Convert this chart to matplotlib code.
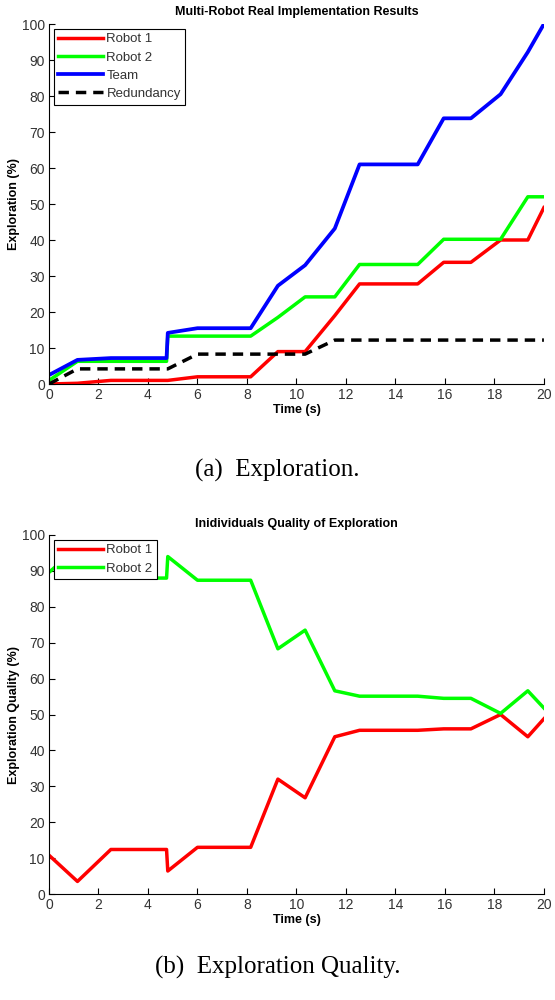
import matplotlib
matplotlib.use("Agg")
import matplotlib.pyplot as plt

# sample times (s)
time = [0, 1.15, 2.5, 4.75, 4.8, 6.0, 8.15, 9.25, 10.35, 11.55, 12.55, 14.9, 15.95, 17.05, 18.25, 19.35, 20.0]

# exploration (%)
robot1 = [0, 0.2, 1.0, 1.0, 1.0, 2.0, 2.0, 9.0, 9.0, 19.0, 27.8, 27.8, 33.8, 33.8, 40.0, 40.0, 49.0]
robot2 = [1.0, 6.3, 6.3, 6.3, 13.3, 13.3, 13.3, 18.5, 24.2, 24.2, 33.2, 33.2, 40.2, 40.2, 40.2, 52.0, 52.0]
team = [2.5, 6.7, 7.2, 7.2, 14.2, 15.5, 15.5, 27.3, 33.0, 43.2, 61.0, 61.0, 73.8, 73.8, 80.5, 92.2, 100.0]
redundancy = [0, 4.2, 4.2, 4.2, 4.2, 8.3, 8.3, 8.3, 8.3, 12.2, 12.2, 12.2, 12.2, 12.2, 12.2, 12.2, 12.2]

# quality of exploration (%)
quality1 = [10.8, 3.5, 12.4, 12.4, 6.4, 13.0, 13.0, 32.0, 26.8, 43.8, 45.6, 45.6, 46.0, 46.0, 50.0, 43.8, 48.8]
quality2 = [89.6, 96.5, 88.0, 88.0, 94.0, 87.4, 87.4, 68.3, 73.5, 56.6, 55.1, 55.1, 54.5, 54.5, 50.3, 56.6, 51.8]

plt.rcParams['font.family'] = ['Liberation Sans', 'DejaVu Sans']

fig = plt.figure(figsize=(5.55, 10), dpi=100)
ax1 = fig.add_axes([0.0883, 0.616, 0.8917, 0.360])
ax2 = fig.add_axes([0.0883, 0.106, 0.8917, 0.359])

ax1.plot(time, robot1, color='#ff0000', lw=2.5, label='Robot 1')
ax1.plot(time, robot2, color='#00ff00', lw=2.5, label='Robot 2')
ax1.plot(time, team, color='#0000ff', lw=2.7, label='Team')
ax1.plot(time, redundancy, color='black', lw=2.5, ls=(0, (3, 2)), label='Redundancy')
ax1.set_title('Multi-Robot Real Implementation Results', fontsize=9, fontweight='bold', pad=6.5)
ax1.set_ylabel('Exploration (%)', fontsize=9, fontweight='bold')

ax2.plot(time, quality1, color='#ff0000', lw=2.5, label='Robot 1')
ax2.plot(time, quality2, color='#00ff00', lw=2.5, label='Robot 2')
ax2.set_title('Inidividuals Quality of Exploration', fontsize=9, fontweight='bold', pad=6)
ax2.set_ylabel('Exploration Quality (%)', fontsize=9, fontweight='bold')

for ax in (ax1, ax2):
    ax.set_xlim(0, 20)
    ax.set_ylim(0, 100)
    ax.set_xticks(range(0, 21, 2))
    ax.set_yticks(range(0, 101, 10))
    ax.set_xlabel('Time (s)', fontsize=9, fontweight='bold', labelpad=1)
    ax.spines['top'].set_visible(False)
    ax.spines['right'].set_visible(False)
    ax.tick_params(direction='in', length=4, width=0.8, labelsize=10, labelcolor='#333333', pad=3)
    ax.yaxis.labelpad = 1
    leg = ax.legend(loc='upper left', fontsize=9.5, handlelength=3.4, handletextpad=0.25,
                    borderpad=0.35, labelspacing=0.45, fancybox=False, framealpha=1,
                    borderaxespad=0.35)
    leg.get_frame().set_edgecolor('black')
    leg.get_frame().set_linewidth(0.8)
    for t in leg.get_texts():
        t.set_color('#333333')

fig.text(0.5, 0.530, '(a)  Exploration.', ha='center', va='center', fontsize=18,
         family='Liberation Serif')
fig.text(0.5, 0.033, '(b)  Exploration Quality.', ha='center', va='center', fontsize=18,
         family='Liberation Serif')

fig.savefig('out.png', dpi=100)
